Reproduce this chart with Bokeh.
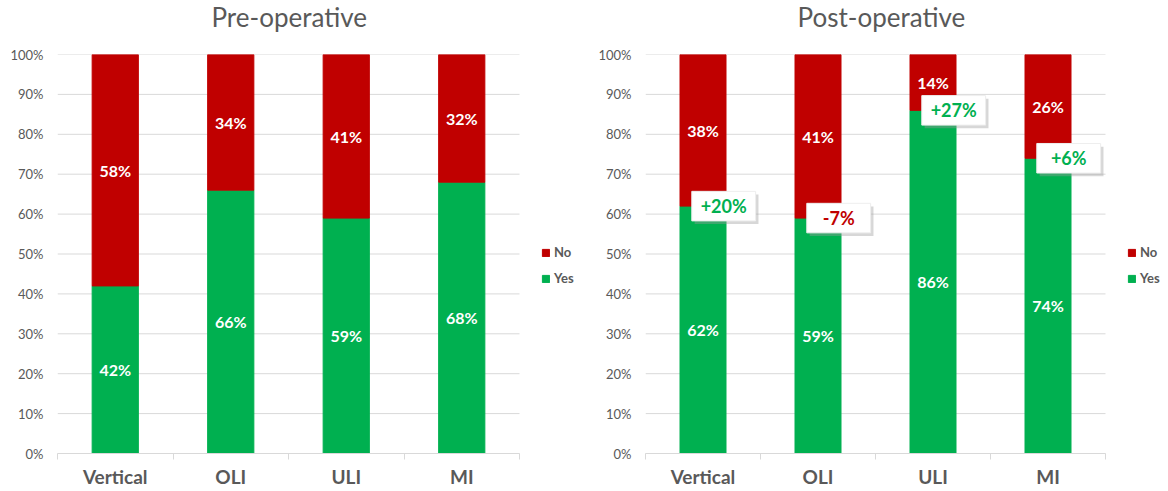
from bokeh.plotting import figure
from bokeh.layouts import row
from bokeh.models import (ColumnDataSource, Range1d, FixedTicker, PrintfTickFormatter,
                          Legend, LegendItem, Title)
from bokeh.embed import file_html
from bokeh.resources import INLINE

categories = ["Vertical", "OLI", "ULI", "MI"]
pre_yes = [42, 66, 59, 68]
pre_no = [58, 34, 41, 32]
post_yes = [62, 59, 86, 74]
post_no = [38, 41, 14, 26]
changes = ["+20%", "-7%", "+27%", "+6%"]
y_ticks = [0, 10, 20, 30, 40, 50, 60, 70, 80, 90, 100]

GREEN = "#00B050"
RED = "#C00000"
GREY = "#595959"
GRID = "#D9D9D9"
FONT = "Lato"


def make_chart(title, yes, no, width, border_left, plot_px, title_offset, annotate=None):
    n = len(categories)
    xs = [i + 0.5 for i in range(n)]
    frame_px = width - border_left
    x_end = n * frame_px / plot_px  # extra room on the right holds the legend
    src = ColumnDataSource(dict(
        x=xs, yes=yes, no=no,
        yes_mid=[y / 2 for y in yes],
        no_mid=[y + v / 2 for y, v in zip(yes, no)],
        yes_lbl=[f"{v}%" for v in yes],
        no_lbl=[f"{v}%" for v in no],
    ))
    p = figure(width=width, height=490, x_range=Range1d(0, x_end),
               y_range=Range1d(0, 100), output_backend="svg", toolbar_location=None,
               min_border_left=border_left, min_border_right=0,
               min_border_top=52, min_border_bottom=34)
    p.outline_line_color = None
    p.background_fill_color = "white"
    p.border_fill_color = "white"

    # empty spacer panel next to the frame, then the title above it
    p.add_layout(Title(text=" ", text_font_size="1px", standoff=17), "above")
    p.add_layout(Title(text=title, align="left", offset=title_offset, vertical_align="top",
                       standoff=0, text_font=FONT, text_font_size="26px",
                       text_font_style="normal", text_color=GREY), "above")

    p.xgrid.grid_line_color = None
    p.ygrid.grid_line_color = None
    # horizontal gridlines only across the category area
    p.segment(x0=0, x1=n, y0=y_ticks, y1=y_ticks, line_color=GRID, line_width=1)

    # y axis
    p.yaxis.ticker = FixedTicker(ticks=y_ticks)
    p.yaxis.formatter = PrintfTickFormatter(format="%d%%")
    p.yaxis.axis_line_color = None
    p.yaxis.major_tick_line_color = None
    p.yaxis.minor_tick_line_color = None
    p.yaxis.major_tick_out = 0
    p.yaxis.major_tick_in = 0
    p.yaxis.major_label_standoff = 14
    p.yaxis.major_label_text_font = FONT
    p.yaxis.major_label_text_font_size = "13px"
    p.yaxis.major_label_text_color = GREY

    # x axis
    p.xaxis.bounds = (0, n)
    p.xaxis.ticker = FixedTicker(ticks=xs, minor_ticks=list(range(n + 1)))
    p.xaxis.major_label_overrides = {x: c for x, c in zip(xs, categories)}
    p.xaxis.axis_line_color = GRID
    p.xaxis.major_tick_line_color = None
    p.xaxis.major_tick_out = 0
    p.xaxis.major_tick_in = 0
    p.xaxis.minor_tick_line_color = GRID
    p.xaxis.minor_tick_out = 6
    p.xaxis.minor_tick_in = 0
    p.xaxis.major_label_standoff = 5
    p.xaxis.major_label_text_font = FONT
    p.xaxis.major_label_text_font_size = "19px"
    p.xaxis.major_label_text_font_style = "bold"
    p.xaxis.major_label_text_color = GREY

    r_yes = p.vbar(x="x", bottom=0, top="yes", width=0.4, color=GREEN, source=src)
    r_no = p.vbar(x="x", bottom="yes", top=100, width=0.4, color=RED, source=src)

    for ycol, lcol in (("yes_mid", "yes_lbl"), ("no_mid", "no_lbl")):
        p.text(x="x", y=ycol, text=lcol, source=src, text_color="white",
               text_font=dict(value=FONT), text_font_size="16px", text_font_style="bold",
               text_align="center", text_baseline="middle")

    if annotate is not None:
        colors = [GREEN if c.startswith("+") else RED for c in annotate]
        asrc = ColumnDataSource(dict(
            bx=[x + 0.18 for x in xs], y=yes,
            sx=[x + 0.205 for x in xs], sy=[y - 0.8 for y in yes],
            t=annotate, c=colors,
        ))
        p.rect(x="sx", y="sy", width=0.555, height=7.4, source=asrc,
               fill_color="#9a9a9a", fill_alpha=0.4, line_color=None)
        p.rect(x="bx", y="y", width=0.555, height=7.4, source=asrc,
               fill_color="white", line_color="#eeeeee", line_width=1)
        p.text(x="bx", y="y", text="t", source=asrc, text_color="c",
               text_font=dict(value=FONT), text_font_size="18px", text_font_style="bold",
               text_align="center", text_baseline="middle")

    legend = Legend(items=[LegendItem(label="No", renderers=[r_no]),
                           LegendItem(label="Yes", renderers=[r_yes])],
                    location=(plot_px + 22, 167), orientation="vertical",
                    padding=0, margin=0, spacing=10,
                    glyph_width=9, glyph_height=9, label_height=16, label_standoff=4,
                    label_text_font=FONT, label_text_font_size="13px",
                    label_text_font_style="bold", label_text_color=GREY,
                    border_line_color=None, background_fill_alpha=0)
    p.add_layout(legend, "center")
    return p


p1 = make_chart("Pre-operative", pre_yes, pre_no, 580, 57, 462, 154)
p2 = make_chart("Post-operative", post_yes, post_no, 588, 65, 460, 152, annotate=changes)

layout = row(p1, p2)
open("out.html", "w").write(file_html(layout, INLINE))
